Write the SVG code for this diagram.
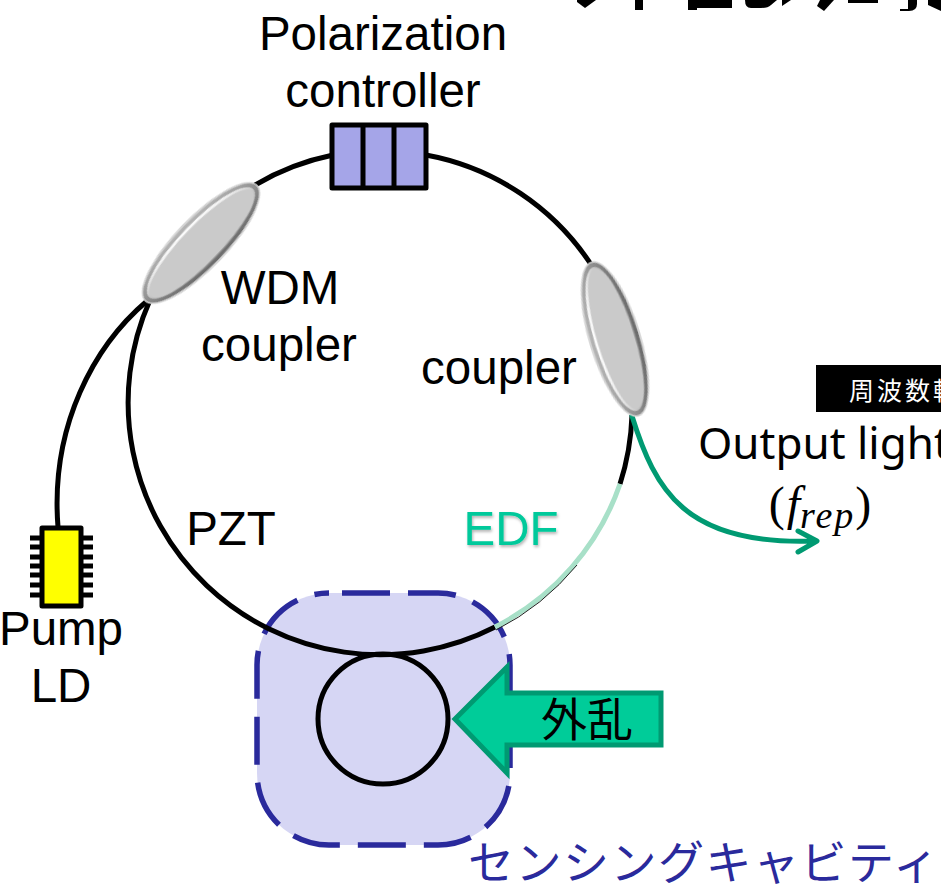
<svg xmlns="http://www.w3.org/2000/svg" width="941" height="893" viewBox="0 0 941 893">
<style>
.t{font-family:"Liberation Sans",Arial,sans-serif;font-size:47.5px;fill:#000;text-anchor:middle}
.j{font-family:"Noto Sans CJK JP",sans-serif}
.f{fill:none;stroke:#000;stroke-width:5}
.g{fill:none;stroke:#009a72;stroke-width:5;stroke-linecap:round;stroke-linejoin:round}
</style>
<defs>
<linearGradient id="rimg" x1="0" y1="0" x2="0" y2="1"><stop offset="0" stop-color="#b4b4b4"/><stop offset="1" stop-color="#6a6a6a"/></linearGradient>
<linearGradient id="hi" x1="0" y1="0" x2="0" y2="1"><stop offset="0" stop-color="#fff"/><stop offset=".5" stop-color="#c8c8c8"/><stop offset="1" stop-color="#999"/></linearGradient>
<filter id="soft" x="-5%" y="-15%" width="110%" height="130%"><feGaussianBlur stdDeviation=".7"/></filter>
<g id="lens" filter="url(#soft)"><ellipse rx="81" ry="26" fill="#d4d4d4"/><ellipse rx="79.500" ry="24" fill="url(#rimg)"/><ellipse rx="75" ry="20.500" fill="url(#hi)"/><ellipse rx="73" ry="18.500" cy=".8" fill="#cacaca"/></g>
<filter id="sh" x="-10%" y="-10%" width="120%" height="130%"><feDropShadow dx="1" dy="2" stdDeviation="1.5" flood-color="#000" flood-opacity=".3"/></filter>
</defs>
<g id="title-fragment" fill="#000">
<path d="M577 2 L585 8 L596 0 L577 0Z"/><rect x="635" y="0" width="8" height="10"/><path d="M688 0h9v10h-9zM697 0h35v8h-35z"/><path d="M745 0h32l-6 5q-3 3-10 3h-10q-6 0-6-8z"/><path d="M782 0h9l-9 6z"/><path d="M820 0h14l-10 11-7-5z"/><rect x="848" y="0" width="30" height="3"/><path d="M889 0h28v4q0 7-8 7h-9v-2h8v-9z"/><path d="M928 0h13v11l-13-6z"/>
</g>
<g id="sensing-cavity"><rect x="257" y="593" width="253" height="252" rx="72" fill="#d6d6f4" stroke="#2a2a9c" stroke-width="5.500" stroke-dasharray="48 18" stroke-dashoffset="53"/></g>
<g id="connectors">
<path class="f" d="M255 185A252 252 0 0 1 333 155M426 155A252 252 0 0 1 592 266M632 415A252 252 0 0 1 620 484"/>
<path class="f" d="M150 300A252 252 0 0 0 495 627"/>
<path d="M620 484A252 252 0 0 1 495 627" fill="none" stroke="#a8e0c8" stroke-width="5"/>
<path d="M496 630A254.500 254.500 0 0 0 577 565" fill="none" stroke="#222" stroke-width="1"/>
<path class="f" d="M147 301C95 345 50 425 58 527"/>
<path class="g" d="M632 416C655 490 685 545 812 541M798 531L817 541L798 552"/>
<circle class="f" cx="383" cy="719" r="65"/>
</g>
<g id="wdm-coupler" transform="translate(201 243) rotate(-46)"><use href="#lens"/></g>
<g id="output-coupler" transform="translate(615 339) rotate(-107)"><use href="#lens"/></g>
<g id="polarization-controller"><rect x="332" y="125" width="94" height="63" fill="#a5a5e8" stroke="#000" stroke-width="5" stroke-linejoin="round"/><path class="f" d="M363 125v63M394 125v63"/><text class="t" x="383" y="50">Polarization</text><text class="t" x="383" y="107">controller</text></g>
<g id="pump-ld"><path d="M30 538h11M30 547h11M30 557h11M30 566h11M30 575h11M30 585h11M30 595h11M82 538h11M82 547h11M82 557h11M82 566h11M82 575h11M82 585h11M82 595h11" stroke="#000" stroke-width="5"/><rect x="42" y="528" width="39" height="78" fill="#ff0" stroke="#000" stroke-width="5" stroke-linejoin="round"/><text class="t" x="61" y="645">Pump</text><text class="t" x="61" y="702">LD</text></g>
<g id="labels"><text class="t" x="280" y="304">WDM</text><text class="t" x="279" y="361">coupler</text><text class="t" x="499" y="384">coupler</text><text class="t" x="231" y="545">PZT</text><text class="t" x="511" y="545" style="fill:#00c99b" filter="url(#sh)">EDF</text></g>
<g id="freq-tag"><rect x="816" y="365" width="125" height="47" fill="#000"/><text class="j" x="849" y="400" font-size="25" letter-spacing="3" fill="#fff">周波数軸</text></g>
<g id="output-light"><text x="698" y="459" font-family="Noto Sans,sans-serif" font-size="44" fill="#000">Output light</text><text x="820" y="520" text-anchor="middle" font-family="Liberation Serif,serif" font-size="48" fill="#000">(<tspan font-style="italic" dx="2">f</tspan><tspan font-style="italic" font-size="38" dy="8" letter-spacing="2">rep</tspan><tspan dy="-8">)</tspan></text></g>
<g id="disturbance"><path d="M455 719L507 667V693H661V745H507V773Z" fill="#00cc99" stroke="#009a72" stroke-width="5"/><text class="j" x="587" y="736" font-size="46" text-anchor="middle" fill="#000">外乱</text></g>
<g id="sensing-label"><text class="j" x="468" y="879" font-size="46" letter-spacing="1.500" fill="#2a2a9c">センシングキャビティ</text></g>
</svg>
